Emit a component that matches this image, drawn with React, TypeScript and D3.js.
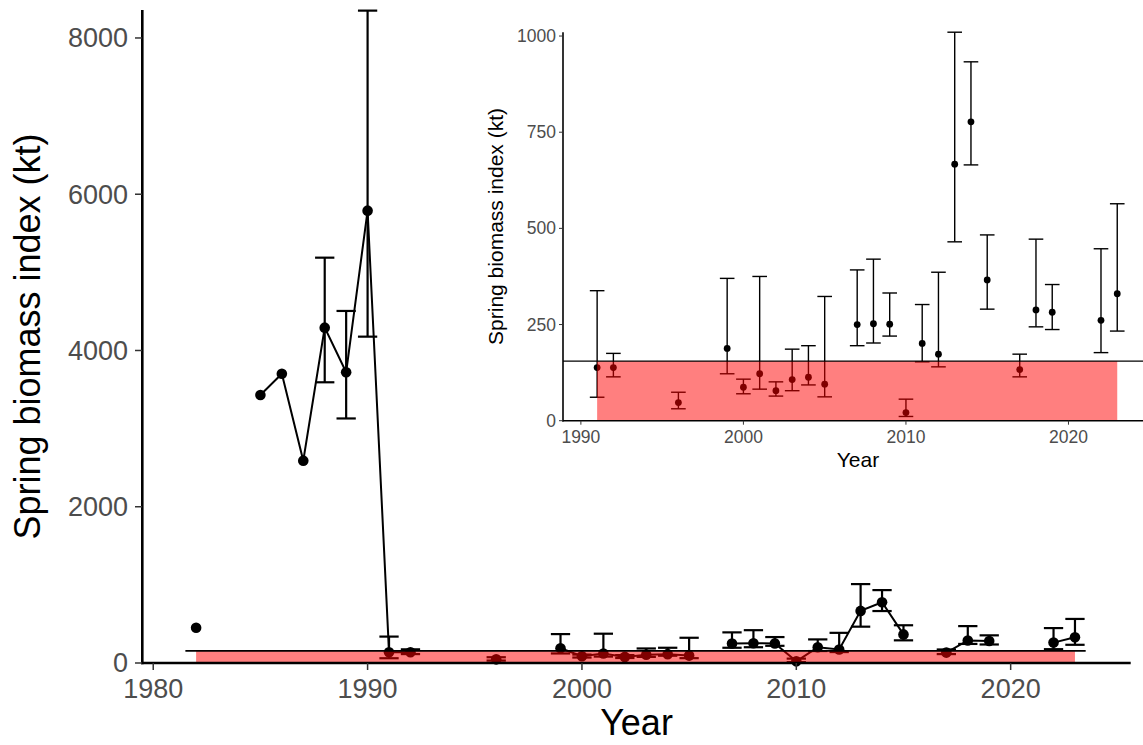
import React from "react";
import * as d3 from "d3";

// ---- data ----
const years = [1982, 1985, 1986, 1987, 1988, 1989, 1990, 1991, 1992, 1996, 1999, 2000, 2001, 2002, 2003, 2004, 2005, 2007, 2008, 2009, 2010, 2011, 2012, 2013, 2014, 2015, 2017, 2018, 2019, 2022, 2023];
const values = [452, 3430, 3703, 2590, 4292, 3721, 5790, 138, 138, 47, 188, 87, 122, 78, 107, 113, 95, 250, 252, 251, 21, 201, 173, 667, 777, 366, 133, 288, 282, 261, 330];
const lower: (number | null)[] = [null, null, null, null, 3593, 3130, 4177, 61, 114, 31, 122, 70, 82, 64, 78, 93, 62, 195, 202, 220, 11, 153, 140, 465, 665, 290, 114, 244, 237, 177, 233];
const upper: (number | null)[] = [null, null, null, null, 5188, 4506, 8350, 338, 175, 74, 370, 108, 375, 101, 186, 195, 323, 392, 420, 332, 56, 302, 386, 1010, 933, 483, 173, 472, 354, 447, 564];
const threshold = 155;
const mainYTicks = [0, 2000, 4000, 6000, 8000];
const mainXTicks = [1980, 1990, 2000, 2010, 2020];
const insetYTicks = [0, 250, 500, 750, 1000];
const insetXTicks = [1990, 2000, 2010, 2020];
const insetStart = 1991;

const rows = years.map((y, i) => ({ year: y, value: values[i], lo: lower[i], hi: upper[i] }));

// consecutive-year segments for the line
const segments: { year: number; value: number }[][] = [];
rows.forEach((r, i) => {
  if (i > 0 && r.year === rows[i - 1].year + 1) segments[segments.length - 1].push(r);
  else segments.push([r]);
});

const FONT = "'Liberation Sans', Arial, Helvetica, sans-serif";
const GREY = "#4D4D4D";

export default function App() {
  // main scales
  const x = d3.scaleLinear().domain([1979.49, 2025.6]).range([142.3, 1130.7]);
  const y = d3.scaleLinear().domain([0, 8358]).range([663, 10]);
  // inset scales
  const ix = d3.scaleLinear().domain([1988.9, 2025.2]).range([563, 1153]);
  const iy = d3.scaleLinear().domain([0, 1010]).range([420.7, 32.2]);

  const line = d3
    .line<{ year: number; value: number }>()
    .x((d) => x(d.year))
    .y((d) => y(d.value));

  const insetRows = rows.filter((r) => r.year >= insetStart);
  const capM = 0.45;

  return (
    <svg width={1143} height={745} style={{ position: "absolute", left: 0, top: 0, background: "#fff" }} fontFamily={FONT}>
      <rect x={0} y={0} width={1143} height={745} fill="#fff" />
      {/* ---------- MAIN ---------- */}
      <g>
        {rows.map((r) =>
          r.lo != null && r.hi != null ? (
            <g key={"e" + r.year} stroke="#000" strokeWidth={2.2} fill="none">
              <line x1={x(r.year)} x2={x(r.year)} y1={y(r.lo)} y2={y(r.hi)} />
              <line x1={x(r.year - capM)} x2={x(r.year + capM)} y1={y(r.lo)} y2={y(r.lo)} />
              <line x1={x(r.year - capM)} x2={x(r.year + capM)} y1={y(r.hi)} y2={y(r.hi)} />
            </g>
          ) : null
        )}
        {segments
          .filter((s) => s.length > 1)
          .map((s, i) => (
            <path key={"l" + i} d={line(s) || ""} fill="none" stroke="#000" strokeWidth={2} />
          ))}
        {rows.map((r) => (
          <circle key={"p" + r.year} cx={x(r.year)} cy={y(r.value)} r={5.3} fill="#000" />
        ))}
        <rect
          x={x(years[0])}
          y={y(threshold)}
          width={x(years[years.length - 1]) - x(years[0])}
          height={y(0) - y(threshold)}
          fill="#FF0000"
          fillOpacity={0.5}
        />
        <line x1={x(years[0] - 0.5)} x2={x(years[years.length - 1] + 0.5)} y1={y(threshold)} y2={y(threshold)} stroke="#000" strokeWidth={1.6} />

        {/* axes */}
        <line x1={142.3} x2={142.3} y1={10} y2={664.2} stroke="#000" strokeWidth={2.6} />
        <line x1={141} x2={1130.7} y1={663} y2={663} stroke="#000" strokeWidth={2.6} />
        {mainYTicks.map((t) => (
          <g key={"my" + t}>
            <line x1={135} x2={142} y1={y(t)} y2={y(t)} stroke="#333" strokeWidth={1.5} />
            <text x={128} y={y(t)} dy="0.35em" textAnchor="end" fontSize={27} fill={GREY}>
              {t}
            </text>
          </g>
        ))}
        {mainXTicks.map((t) => (
          <g key={"mx" + t}>
            <line x1={x(t)} x2={x(t)} y1={663} y2={670} stroke="#333" strokeWidth={1.5} />
            <text x={x(t)} y={697.5} textAnchor="middle" fontSize={27} fill={GREY}>
              {t}
            </text>
          </g>
        ))}
        <text transform={`translate(39.5,${(10 + 663) / 2}) rotate(-90)`} textAnchor="middle" fontSize={36} fill="#000">
          Spring biomass index (kt)
        </text>
        <text x={(142.3 + 1130.7) / 2} y={735} textAnchor="middle" fontSize={36} fill="#000">
          Year
        </text>
      </g>

      {/* ---------- INSET ---------- */}
      <g>
        {insetRows.map((r) =>
          r.lo != null && r.hi != null ? (
            <g key={"ie" + r.year} stroke="#000" strokeWidth={1.4} fill="none">
              <line x1={ix(r.year)} x2={ix(r.year)} y1={iy(r.lo)} y2={iy(r.hi)} />
              <line x1={ix(r.year - capM)} x2={ix(r.year + capM)} y1={iy(r.lo)} y2={iy(r.lo)} />
              <line x1={ix(r.year - capM)} x2={ix(r.year + capM)} y1={iy(r.hi)} y2={iy(r.hi)} />
            </g>
          ) : null
        )}
        {insetRows.map((r) => (
          <circle key={"ip" + r.year} cx={ix(r.year)} cy={iy(r.value)} r={3.4} fill="#000" />
        ))}
        <rect
          x={ix(insetStart)}
          y={iy(threshold)}
          width={ix(years[years.length - 1]) - ix(insetStart)}
          height={iy(0) - iy(threshold)}
          fill="#FF0000"
          fillOpacity={0.5}
        />
        <line x1={563} x2={1143} y1={iy(threshold)} y2={iy(threshold)} stroke="#000" strokeWidth={1.2} />

        <line x1={563} x2={563} y1={32.2} y2={421.5} stroke="#000" strokeWidth={1.6} />
        <line x1={562.2} x2={1143} y1={420.7} y2={420.7} stroke="#000" strokeWidth={1.6} />
        {insetYTicks.map((t) => (
          <g key={"iy" + t}>
            <line x1={559} x2={563} y1={iy(t)} y2={iy(t)} stroke="#333" strokeWidth={1} />
            <text x={556} y={iy(t)} dy="0.35em" textAnchor="end" fontSize={17.5} fill={GREY}>
              {t}
            </text>
          </g>
        ))}
        {insetXTicks.map((t) => (
          <g key={"ix" + t}>
            <line x1={ix(t)} x2={ix(t)} y1={420.7} y2={424.7} stroke="#333" strokeWidth={1} />
            <text x={ix(t)} y={443} textAnchor="middle" fontSize={17.5} fill={GREY}>
              {t}
            </text>
          </g>
        ))}
        <text transform={`translate(503.4,${(32.2 + 420.7) / 2}) rotate(-90)`} textAnchor="middle" fontSize={21} fill="#000">
          Spring biomass index (kt)
        </text>
        <text x={(563 + 1153) / 2} y={466.5} textAnchor="middle" fontSize={21} fill="#000">
          Year
        </text>
      </g>
    </svg>
  );
}
